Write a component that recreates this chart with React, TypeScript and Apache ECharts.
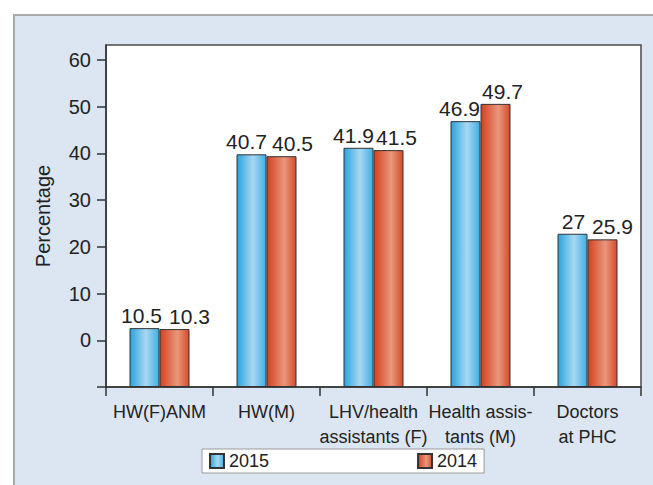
import React, { useEffect, useRef } from 'react';
import * as echarts from 'echarts';

const categories = ['HW(F)ANM', 'HW(M)', 'LHV/health\nassistants (F)', 'Health assis-\ntants (M)', 'Doctors\nat PHC'];
const seriesNames = ['2015', '2014'];
// bar heights as drawn against the axis
const bars2015 = [2.6, 39.8, 41.2, 46.9, 22.8];
const bars2014 = [2.4, 39.4, 40.7, 50.6, 21.6];
// printed value labels
const labels2015 = ['10.5', '40.7', '41.9', '46.9', '27'];
const labels2014 = ['10.3', '40.5', '41.5', '49.7', '25.9'];
const yMin = -10;
const yMax = 63.2;
const yStep = 10;

// label horizontal shifts (style only)
const labelShift2015 = [-3, -5, -5, -6, 1];
const labelShift2014 = [15, 11, 8, 7, 10];

const SANS = "'Liberation Sans', Arial, Helvetica, sans-serif";

const blueFill = new echarts.graphic.LinearGradient(0, 0, 1, 0, [
  { offset: 0, color: '#28a3de' },
  { offset: 0.55, color: '#a9d8f2' },
  { offset: 1, color: '#3eaee4' },
]);
const redFill = new echarts.graphic.LinearGradient(0, 0, 1, 0, [
  { offset: 0, color: '#d5401f' },
  { offset: 0.6, color: '#e9977c' },
  { offset: 1, color: '#d54a2a' },
]);

function makeData(values: number[], labels: string[], shifts: number[]) {
  return values.map((v, i) => ({
    value: v,
    label: { formatter: labels[i], offset: [shifts[i], 0] },
  }));
}

export default function App() {
  const ref = useRef<HTMLDivElement>(null);
  useEffect(() => {
    if (!ref.current) return;
    const chart = echarts.init(ref.current, undefined, { renderer: 'svg' });
    const labelStyle = {
      show: true,
      position: 'top',
      distance: 2,
      fontSize: 21,
      fontFamily: SANS,
      color: '#222',
    };
    chart.setOption({
      animation: false,
      backgroundColor: '#ffffff',
      graphic: [
        {
          type: 'rect',
          z: -100,
          silent: true,
          shape: { x: 14, y: 15, width: 700, height: 500 },
          style: { fill: '#dce6f2', stroke: '#a9a9a9', lineWidth: 2 },
        },
      ],
      grid: {
        left: 106,
        right: 12,
        top: 45,
        bottom: 98,
        show: true,
        backgroundColor: '#ffffff',
        borderColor: '#4a4a4a',
        borderWidth: 1.5,
      },
      legend: {
        data: seriesNames,
        left: 202,
        top: 449,
        orient: 'horizontal',
        icon: 'rect',
        itemWidth: 14,
        itemHeight: 14,
        itemGap: 148,
        padding: [3, 7, 3, 7],
        backgroundColor: '#ffffff',
        borderColor: '#9a9a9a',
        borderWidth: 1,
        textStyle: { fontSize: 18, fontFamily: SANS, color: '#222' },
      },
      xAxis: {
        type: 'category',
        data: categories,
        boundaryGap: true,
        axisLine: { onZero: false, lineStyle: { color: '#333', width: 1.5 } },
        axisTick: { show: true, length: 9, inside: false, lineStyle: { color: '#333', width: 1.5 } },
        axisLabel: {
          interval: 0,
          margin: 12,
          fontSize: 18,
          lineHeight: 25,
          fontFamily: SANS,
          color: '#222',
        },
        splitLine: { show: false },
      },
      yAxis: {
        type: 'value',
        min: yMin,
        max: yMax,
        interval: yStep,
        startValue: yMin,
        name: 'Percentage',
        nameLocation: 'middle',
        nameGap: 53,
        nameRotate: 90,
        nameTextStyle: { fontSize: 20, fontFamily: SANS, color: '#222' },
        axisLine: { show: true, lineStyle: { color: '#333', width: 1.5 } },
        axisTick: { show: true, length: 9, lineStyle: { color: '#333', width: 1.5 } },
        axisLabel: {
          margin: 15,
          fontSize: 20,
          fontFamily: SANS,
          color: '#222',
          showMaxLabel: false,
          formatter: (v: number) => (v === yMin ? '' : String(v)),
        },
        splitLine: { show: false },
      },
      series: [
        {
          name: seriesNames[0],
          type: 'bar',
          data: makeData(bars2015, labels2015, labelShift2015),
          barWidth: 30,
          barGap: '0%',
          itemStyle: { color: blueFill, borderColor: '#333', borderWidth: 1 },
          label: labelStyle,
        },
        {
          name: seriesNames[1],
          type: 'bar',
          data: makeData(bars2014, labels2014, labelShift2014),
          barWidth: 30,
          barGap: '0%',
          itemStyle: { color: redFill, borderColor: '#333', borderWidth: 1 },
          label: labelStyle,
        },
      ],
    });
    return () => chart.dispose();
  }, []);
  return (
    <div
      ref={ref}
      style={{ position: 'fixed', left: 0, top: 0, width: 653, height: 485 }}
    />
  );
}
